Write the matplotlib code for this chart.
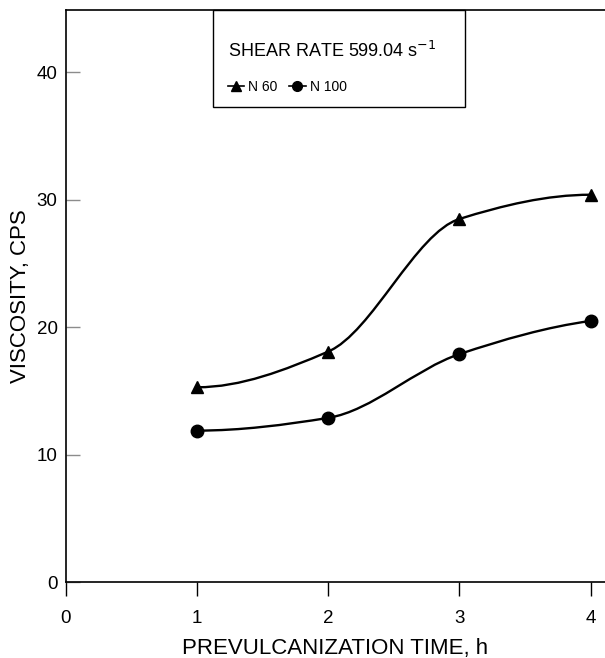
import matplotlib
matplotlib.use("Agg")
import matplotlib.pyplot as plt
import numpy as np
from matplotlib.path import Path
from matplotlib.patches import PathPatch, Rectangle

# values
time_h = [1, 2, 3, 4]
visc_n60 = [15.3, 18.1, 28.5, 30.4]
visc_n100 = [11.9, 12.9, 17.9, 20.5]
x_ticks = [0, 1, 2, 3, 4]
y_ticks = [0, 10, 20, 30, 40]

plt.rcParams["font.family"] = ["Liberation Sans", "DejaVu Sans"]


def _pchip_slopes(x, y):
    x = np.asarray(x, float)
    y = np.asarray(y, float)
    h = np.diff(x)
    d = np.diff(y) / h
    m = np.zeros_like(y)
    for k in range(1, len(y) - 1):
        if d[k - 1] * d[k] > 0:
            w1 = 2 * h[k] + h[k - 1]
            w2 = h[k] + 2 * h[k - 1]
            m[k] = (w1 + w2) / (w1 / d[k - 1] + w2 / d[k])
    m0 = ((2 * h[0] + h[1]) * d[0] - h[0] * d[1]) / (h[0] + h[1])
    m[0] = m0 if np.sign(m0) == np.sign(d[0]) else 0.0
    mn = ((2 * h[-1] + h[-2]) * d[-1] - h[-1] * d[-2]) / (h[-1] + h[-2])
    m[-1] = mn if np.sign(mn) == np.sign(d[-1]) else 0.0
    return m


def _smooth_path(x, y):
    m = _pchip_slopes(x, y)
    verts = [(x[0], y[0])]
    codes = [Path.MOVETO]
    for k in range(len(x) - 1):
        h = x[k + 1] - x[k]
        verts += [
            (x[k] + h / 3, y[k] + m[k] * h / 3),
            (x[k + 1] - h / 3, y[k + 1] - m[k + 1] * h / 3),
            (x[k + 1], y[k + 1]),
        ]
        codes += [Path.CURVE4] * 3
    return Path(verts, codes)


fig = plt.figure(figsize=(6.05, 6.58), dpi=100)
ax = fig.add_axes([0.109, 0.115, 0.891, 0.87])

for xs, ys in [(time_h, visc_n60), (time_h, visc_n100)]:
    ax.add_patch(PathPatch(_smooth_path(xs, ys), facecolor="none",
                           edgecolor="black", linewidth=1.7, zorder=2))

ax.plot(time_h, visc_n60, linestyle="none", marker="^", markersize=9,
        color="black", zorder=3)
ax.plot(time_h, visc_n100, linestyle="none", marker="o", markersize=9,
        color="black", zorder=3)

# legend: contents without frame, box drawn so it hangs from the top spine
h60, = ax.plot([], [], color="black", marker="^", markersize=7, linewidth=1.2, label="N 60")
h100, = ax.plot([], [], color="black", marker="o", markersize=7, linewidth=1.2, label="N 100")
leg = ax.legend(handles=[h60, h100], ncol=2, title="SHEAR RATE 599.04 s$^{-1}$",
                loc="upper left", bbox_to_anchor=(0.300, 0.945), frameon=False,
                fontsize=10, title_fontsize=13, handlelength=1.2,
                handletextpad=0.3, columnspacing=0.8, borderpad=0,
                borderaxespad=0, alignment="left", labelspacing=1.3)
ax.add_patch(Rectangle((0.2727, 0.830), 0.468, 0.170, transform=ax.transAxes,
                       facecolor="none", edgecolor="black", linewidth=1.0,
                       clip_on=False, zorder=4))

ax.set_xlim(0, 4.11)
ax.set_ylim(0, 44.9)
ax.set_xticks(x_ticks)
ax.set_yticks(y_ticks)
ax.tick_params(axis="x", direction="out", length=10, width=1, labelsize=13.5, pad=10)
ax.tick_params(axis="y", direction="in", length=10, width=1, color="0.55",
               labelsize=13.5, pad=6)
ax.spines["right"].set_visible(False)
for s in ["left", "bottom", "top"]:
    ax.spines[s].set_linewidth(1.2)

ax.set_xlabel("PREVULCANIZATION TIME, h", fontsize=16, labelpad=8)
ax.set_ylabel("VISCOSITY, CPS", fontsize=16, labelpad=4)

fig.savefig("out.png", dpi=100)
